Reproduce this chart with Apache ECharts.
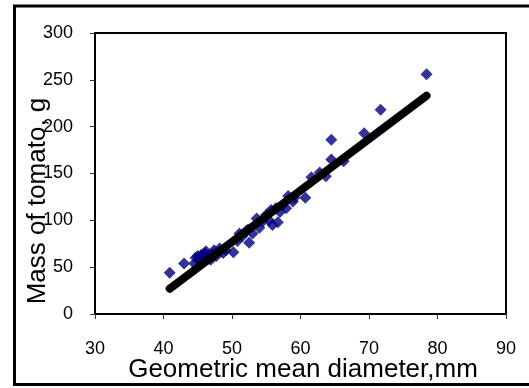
<!DOCTYPE html>
<html>
<head>
<meta charset="utf-8">
<script src="https://cdn.jsdelivr.net/npm/echarts@6/dist/echarts.min.js"></script>
<style>
  html, body { margin: 0; padding: 0; background: #fff; }
  #chart { width: 529px; height: 388px; }
</style>
</head>
<body>
<div id="chart"></div>
<script>
// geometric mean diameter (mm) and tomato mass (g)
const diameter = [
  40.9, 43.0, 44.5, 44.7, 45.0, 45.3, 45.5, 45.7, 46.0, 46.2,
  46.5, 46.9, 47.2, 47.4, 47.7, 48.2, 48.7, 49.1, 50.2, 50.8,
  51.1, 51.5, 52.0, 52.3, 52.5, 53.0, 53.6, 54.0, 54.5, 55.0,
  55.4, 55.7, 55.9, 56.4, 56.7, 57.0, 57.4, 57.9, 58.2, 58.9,
  59.1, 60.7, 61.6, 62.8, 63.7, 64.5, 64.5, 66.3, 69.3, 71.7,
  78.4
];
const mass = [
  44, 54, 54, 60, 62, 58, 63, 58, 65, 67,
  60, 58, 64, 68, 62, 70, 65, 68, 66, 78,
  86, 83, 88, 90, 76, 86, 102, 92, 99, 106,
  100, 111, 95, 113, 98, 109, 116, 113, 126, 120,
  124, 124, 146, 151, 147, 186, 165, 163, 193, 218,
  256
];
// fitted line end points
const fitX = [40.9, 78.4];
const fitY = [27, 233];

const xTicks = { min: 30, max: 90, step: 10 };
const yTicks = { min: 0, max: 300, step: 50 };

const xTitle = "Geometric mean diameter,mm";
const yTitle = "Mass of tomato, g";

const chart = echarts.init(document.getElementById("chart"), null, { renderer: "canvas" });
const FONT = "'Liberation Sans', Arial, sans-serif";

const axisCommon = {
  type: "value",
  axisLine: { show: true, onZero: false, lineStyle: { color: "#000", width: 2 } },
  axisTick: { show: true, inside: false, length: 5, lineStyle: { color: "#333", width: 1 } },
  splitLine: { show: false },
  axisLabel: { color: "#000", fontSize: 18, fontFamily: FONT },
};

chart.setOption({
  backgroundColor: "#fff",
  animation: false,
  grid: {
    left: 95, top: 33, right: 23, bottom: 74,
    show: true, borderColor: "#000", borderWidth: 2, backgroundColor: "transparent",
  },
  xAxis: {
    ...axisCommon,
    min: xTicks.min, max: xTicks.max, interval: xTicks.step,
    axisLabel: { ...axisCommon.axisLabel, margin: 26 },
  },
  yAxis: {
    ...axisCommon,
    min: yTicks.min, max: yTicks.max, interval: yTicks.step,
    axisLabel: { ...axisCommon.axisLabel, margin: 22 },
  },
  graphic: [
    {
      type: "rect", z: 100, silent: true,
      shape: { x: 14.5, y: 6, width: 540, height: 378.5 },
      style: { fill: null, stroke: "#000", lineWidth: 3 },
    },
    {
      type: "text", z: 100, x: 303, y: 370,
      style: {
        text: xTitle, font: "26px " + FONT, fill: "#000",
        textAlign: "center", textVerticalAlign: "middle",
      },
    },
    {
      type: "text", z: 100, x: 38, y: 201, rotation: Math.PI / 2,
      style: {
        text: yTitle, font: "26px " + FONT, fill: "#000",
        textAlign: "center", textVerticalAlign: "middle",
      },
    },
  ],
  series: [
    {
      type: "scatter",
      symbol: "diamond",
      symbolSize: 12,
      itemStyle: { color: "#000080" },
      data: diameter.map((d, i) => [d, mass[i]]),
      z: 2,
    },
    {
      type: "line",
      symbol: "none",
      lineStyle: { color: "#000", width: 8, cap: "round" },
      data: fitX.map((d, i) => [d, fitY[i]]),
      z: 3,
    },
  ],
});
</script>
</body>
</html>
